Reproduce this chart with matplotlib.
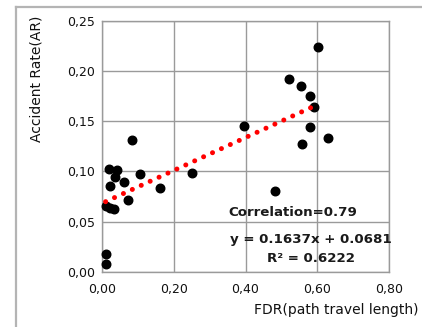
import matplotlib
matplotlib.use("Agg")
import matplotlib.pyplot as plt
from matplotlib.ticker import FuncFormatter
from matplotlib.lines import Line2D

# data
fdr = [0.603, 0.522, 0.556, 0.580, 0.591, 0.581, 0.557, 0.629, 0.396, 0.483,
       0.250, 0.161, 0.107, 0.083, 0.062, 0.073, 0.0195, 0.041, 0.035, 0.021,
       0.010, 0.022, 0.034, 0.010, 0.011]
ar = [0.2235, 0.192, 0.1846, 0.175, 0.1637, 0.144, 0.127, 0.1335, 0.1454, 0.080,
      0.098, 0.083, 0.0973, 0.1315, 0.089, 0.0714, 0.1023, 0.101, 0.094, 0.0854,
      0.065, 0.063, 0.062, 0.0176, 0.0074]
slope = 0.1637
intercept = 0.0681
trend_x = [0.010, 0.605]
x_ticks = [0.0, 0.2, 0.4, 0.6, 0.8]
y_ticks = [0.0, 0.05, 0.10, 0.15, 0.20, 0.25]

fig = plt.figure(figsize=(4.22, 3.27), dpi=100)
fig.patch.set_facecolor("white")

# outer frame (top and left gray lines)
fig.add_artist(Line2D([16/422, 1.0], [1-7/327, 1-7/327], color="#b4b4b4", lw=1.6, transform=fig.transFigure))
fig.add_artist(Line2D([16/422, 16/422], [0.0, 1-7/327], color="#b4b4b4", lw=1.6, transform=fig.transFigure))

ax = fig.add_axes([102/422, (327-271.7)/327, 287/422, 251/327])
ax.set_xlim(0, 0.8)
ax.set_ylim(0, 0.25)
ax.set_xticks(x_ticks)
ax.set_yticks(y_ticks)
fmt = FuncFormatter(lambda v, p: f"{v:.2f}".replace(".", ","))
ax.xaxis.set_major_formatter(fmt)
ax.yaxis.set_major_formatter(fmt)
ax.tick_params(length=0, labelsize=9, colors="#111111")
ax.tick_params(axis="x", pad=8)
ax.tick_params(axis="y", pad=5)
ax.grid(True, color="#9a9a9a", lw=1.0)
ax.set_axisbelow(True)
for s in ax.spines.values():
    s.set_color("#9a9a9a")
    s.set_linewidth(1.0)

ax.scatter(fdr, ar, s=38, color="black", zorder=3, clip_on=False)
ty = [slope * x + intercept for x in trend_x]
ax.plot(trend_x, ty, color="red", lw=3.6, linestyle=(0, (0.01, 1.95)),
        dash_capstyle="round", zorder=4)

ax.text(293, 327-212, "Correlation=0.79", transform=None, ha="center", va="center",
        fontsize=9.6, fontweight="bold", color="#1a1a1a")
ax.text(311, 327-240, "y = 0.1637x + 0.0681", transform=None, ha="center", va="center",
        fontsize=9.6, fontweight="bold", color="#1a1a1a")
ax.text(311, 327-259, "R² = 0.6222", transform=None, ha="center", va="center",
        fontsize=9.6, fontweight="bold", color="#1a1a1a")

fig.text(419/422, 1-310/327, "FDR(path travel length)", ha="right", va="center",
         fontsize=10, color="#111111")
fig.text(36/422, 1-79/327, "Accident Rate(AR)", ha="center", va="center",
         rotation=90, fontsize=10, color="#111111")

fig.savefig("out.png", dpi=100)
